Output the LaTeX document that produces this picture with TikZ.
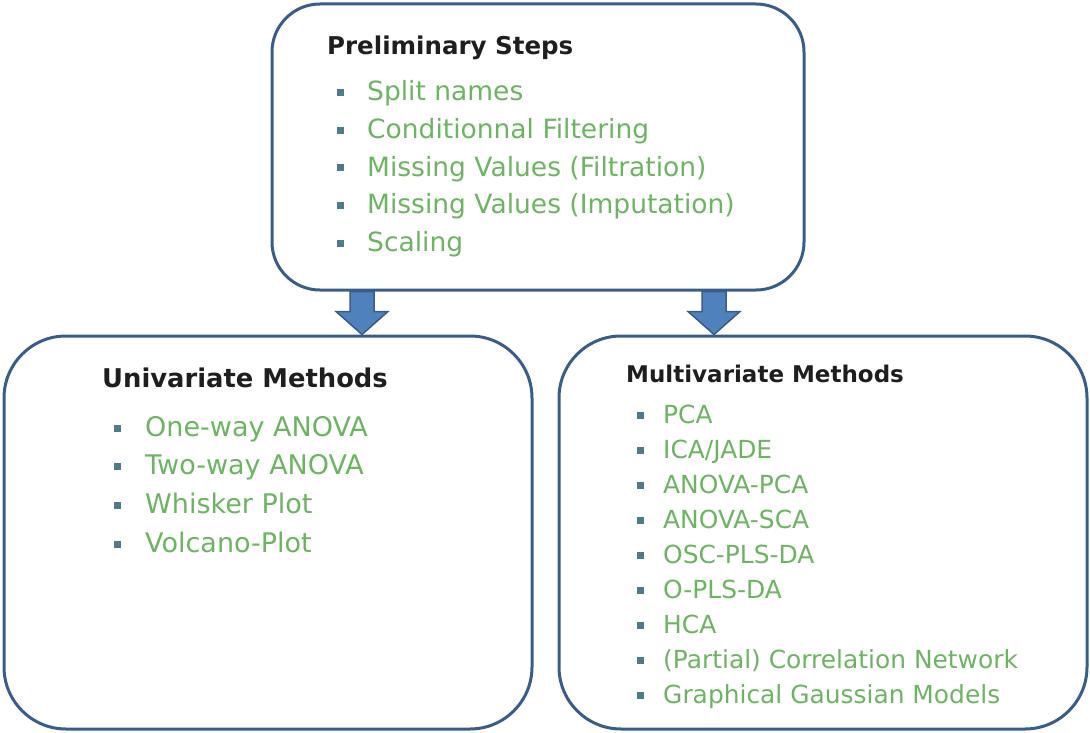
\documentclass[tikz,border=0pt]{standalone}
\usepackage{fontspec}
\setmainfont{DejaVu Sans}
\usepackage{xcolor}
\usetikzlibrary{calc,backgrounds}
\definecolor{panelblue}{RGB}{56,93,138}
\definecolor{arrowblue}{RGB}{79,129,189}
\definecolor{itemgreen}{RGB}{108,180,98}
\definecolor{bulletgrey}{RGB}{78,122,138}
\definecolor{titleblack}{RGB}{30,30,30}

\tikzset{
  panel/.style={rectangle, draw=panelblue, line width=3pt},
  paneltitle/.style={anchor=base west, inner sep=0pt, text=titleblack},
  listitem/.style={anchor=base west, inner sep=0pt, text=itemgreen},
  bulletsq/.style={rectangle, fill=bulletgrey, minimum size=7pt, inner sep=0pt},
  blockarrow/.style={draw=panelblue, fill=arrowblue, line width=1.5pt, line join=miter}
}

% block arrow from (#1) down to its tip (#2)
\newcommand{\blockdown}[2]{%
  \draw[blockarrow] ($(#1)+(-12,0)$) -- ($(#1)+(12,0)$) -- ($(#2)+(12,-23)$)
    -- ($(#2)+(26,-23)$) -- (#2) -- ($(#2)+(-26,-23)$) -- ($(#2)+(-12,-23)$) -- cycle;}

\begin{document}
\begin{tikzpicture}[x=1pt, y=-1pt]
    \useasboundingbox (0,0) rectangle (1090,733);

    % Panels
    \node[panel, minimum width=532pt, minimum height=286pt, rounded corners=48pt] (prelim) at (538,147) {};
    \node[panel, minimum width=528pt, minimum height=393pt, rounded corners=62pt] (univ) at (268,532.5) {};
    \node[panel, minimum width=528pt, minimum height=393pt, rounded corners=62pt] (multiv) at (823,532.5) {};

    % Arrows
    \coordinate (arrowL) at (362,0);
    \coordinate (arrowR) at (714,0);
    \begin{pgfonlayer}{background}
        \blockdown{prelim.south -| arrowL}{univ.north -| arrowL}
        \blockdown{prelim.south -| arrowR}{multiv.north -| arrowR}
    \end{pgfonlayer}

    % Preliminary steps
    \node[paneltitle, font=\bfseries\fontsize{24.5}{28}\selectfont] (prelimtitle) at (327,55) {Preliminary Steps};
    \foreach \txt [count=\i] in {Split names, Conditionnal Filtering, Missing Values (Filtration), Missing Values (Imputation), Scaling} {
        \node[listitem, font=\fontsize{26.5}{30}\selectfont] (prelim\i) at (367,{101+37.5*(\i-1)}) {\txt};
        \node[bulletsq] at ($(prelim\i.base west)+(-27,-8)$) {};
    }

    % Univariate methods
    \node[paneltitle, font=\bfseries\fontsize{25.8}{30}\selectfont] (univtitle) at (102,387) {Univariate Methods};
    \foreach \txt [count=\i] in {One-way ANOVA, Two-way ANOVA, Whisker Plot, Volcano-Plot} {
        \node[listitem, font=\fontsize{27}{30}\selectfont] (univ\i) at (145,{436+38.7*(\i-1)}) {\txt};
        \node[bulletsq] at ($(univ\i.base west)+(-28,-8)$) {};
    }

    % Multivariate methods
    \node[paneltitle, font=\bfseries\fontsize{23}{27}\selectfont] (multivtitle) at (626,382) {Multivariate Methods};
    \foreach \txt [count=\i] in {PCA, {ICA/JADE}, ANOVA-PCA, ANOVA-SCA, OSC-PLS-DA, O-PLS-DA, HCA, (Partial) Correlation Network, Graphical Gaussian Models} {
        \node[listitem, font=\fontsize{24.9}{28}\selectfont] (multiv\i) at (663,{423+35.1*(\i-1)}) {\txt};
        \node[bulletsq] at ($(multiv\i.base west)+(-23,-8)$) {};
    }
\end{tikzpicture}
\end{document}
